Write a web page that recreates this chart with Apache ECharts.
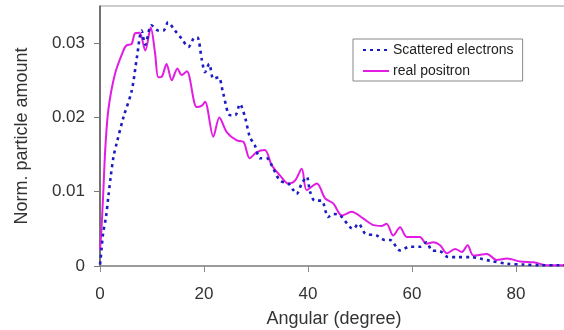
<!DOCTYPE html>
<html>
<head>
<meta charset="utf-8">
<script src="https://cdn.jsdelivr.net/npm/echarts@6/dist/echarts.min.js"></script>
<style>
  html, body { margin: 0; padding: 0; background: #fff; }
  #chart { width: 564px; height: 330px; }
</style>
</head>
<body>
<div id="chart"></div>
<script>
var electronAngle = [0, 0.1, 0.3, 0.6, 1.15, 1.6, 2.05, 2.6, 3.2, 4.5, 6.1, 7.1, 8.0, 8.7, 9.9, 11.2, 12.2, 13.1, 14.4, 15.7, 17.0, 18.0, 18.7, 19.6, 20.2, 21.0, 21.8, 22.8, 23.7, 25.0, 26.0, 26.9, 27.9, 28.8, 29.8, 30.8, 32.1, 33.0, 34.6, 36.2, 37.2, 37.8, 38.8, 39.75, 40.4, 41.3, 42.6, 43.9, 44.9, 46.2, 48.7, 49.7, 51.0, 53.2, 54.8, 55.8, 57.7, 59.6, 61.5, 62.8, 63.8, 65.4, 67.0, 68.6, 71.2, 73.1, 75.0, 78.3, 81.4, 84.6, 88, 90];
var electronValue = [0.0002, 0.0008, 0.0023, 0.0044, 0.0066, 0.0093, 0.012, 0.0147, 0.0165, 0.020, 0.0236, 0.0281, 0.0317, 0.0298, 0.0324, 0.0317, 0.0317, 0.0328, 0.0317, 0.0306, 0.0295, 0.0306, 0.0308, 0.0277, 0.0261, 0.0272, 0.0252, 0.0254, 0.0232, 0.0203, 0.0203, 0.0218, 0.0200, 0.0174, 0.0162, 0.0145, 0.0145, 0.0136, 0.0115, 0.0111, 0.0102, 0.0097, 0.0111, 0.0120, 0.0100, 0.0088, 0.0088, 0.0066, 0.0070, 0.0068, 0.0050, 0.0057, 0.0044, 0.0041, 0.0035, 0.0035, 0.0021, 0.0026, 0.0026, 0.0032, 0.0021, 0.0020, 0.0012, 0.0012, 0.0012, 0.0010, 0.0007, 0.0003, 0.0002, 0.0001, 0.0001, 0.0001];

var positronAngle = [0, 0.3, 0.65, 1.0, 1.6, 2.9, 4.5, 5.1, 6.1, 6.7, 7.6, 8.7, 9.75, 10.6, 11.2, 11.9, 12.8, 13.8, 14.9, 15.7, 16.7, 18.6, 19.6, 20.2, 21.8, 22.95, 24.4, 26.3, 27.6, 28.8, 30.1, 31.7, 33.0, 34.6, 36.2, 37.5, 38.8, 39.75, 41.7, 43.3, 44.9, 46.5, 48.4, 50.6, 52.6, 54.2, 55.1, 56.4, 57.7, 59.0, 61.5, 62.8, 64.1, 65.4, 66.7, 68.3, 69.6, 70.7, 71.8, 74.4, 76.3, 78.3, 80.8, 83.4, 86.0, 88.5, 90];
var positronValue = [0.0021, 0.0052, 0.0102, 0.0156, 0.0210, 0.0259, 0.0290, 0.0297, 0.0299, 0.0313, 0.0314, 0.0290, 0.0321, 0.0286, 0.0254, 0.0255, 0.0272, 0.0250, 0.0266, 0.0257, 0.0262, 0.0214, 0.0216, 0.0221, 0.0174, 0.0200, 0.0180, 0.0169, 0.0167, 0.0145, 0.0153, 0.0156, 0.0136, 0.0122, 0.0111, 0.0115, 0.0131, 0.0102, 0.0111, 0.0091, 0.0084, 0.0068, 0.0073, 0.0064, 0.0055, 0.0054, 0.0057, 0.0041, 0.0052, 0.0039, 0.0039, 0.0030, 0.0032, 0.0028, 0.0017, 0.0023, 0.0019, 0.0028, 0.0014, 0.0016, 0.0008, 0.0010, 0.0006, 0.0005, 0.0001, 0.0001, 0.0001];

var xTicks = [0, 20, 40, 60, 80];
var yTicks = [0, 0.01, 0.02, 0.03];

function zip(a, b) {
  return a.map(function (v, i) { return [v, b[i]]; });
}

var font = "'Liberation Sans', Arial, sans-serif";
var chart = echarts.init(document.getElementById("chart"));
chart.setOption({
  animation: false,
  grid: {
    left: 100,
    top: 6,
    width: 468,
    height: 260,
    outerBoundsMode: "none",
    show: true,
    borderColor: "#9a9a9a",
    borderWidth: 1
  },
  legend: {
    orient: "vertical",
    left: 353,
    top: 39,
    padding: [4, 9, 3, 9],
    itemWidth: 26,
    itemHeight: 14,
    itemGap: 7,
    borderColor: "#888",
    borderWidth: 1,
    backgroundColor: "#fff",
    itemStyle: { opacity: 0 },
    textStyle: { fontFamily: font, fontSize: 14, color: "#222", padding: [0, 0, 0, -1] },
    data: ["Scattered electrons", "real positron"]
  },
  xAxis: {
    type: "value",
    min: 0,
    max: 90,
    name: "Angular (degree)",
    nameLocation: "middle",
    nameGap: 44,
    nameTextStyle: { fontFamily: font, fontSize: 18, color: "#333" },
    axisLine: { lineStyle: { color: "#8a8a8a", width: 1.5 } },
    axisTick: { length: 6, customValues: xTicks, lineStyle: { color: "#8a8a8a" } },
    axisLabel: { customValues: xTicks, fontFamily: font, fontSize: 17, color: "#333", margin: 20 },
    splitLine: { show: false }
  },
  yAxis: {
    type: "value",
    min: 0,
    max: 0.035,
    name: "Norm. particle amount",
    nameLocation: "middle",
    nameGap: 69,
    nameTextStyle: { fontFamily: font, fontSize: 18, color: "#333" },
    axisLine: { show: true, lineStyle: { color: "#555", width: 1.5 } },
    axisTick: { show: true, length: 6, customValues: yTicks, lineStyle: { color: "#777" } },
    axisLabel: { customValues: yTicks, fontFamily: font, fontSize: 17, color: "#333", margin: 15 },
    splitLine: { show: false }
  },
  series: [
    {
      name: "Scattered electrons",
      type: "line",
      data: zip(electronAngle, electronValue),
      symbol: "none",
      smooth: 0.3,
      z: 3,
      itemStyle: { color: "#1c1cc4" },
      lineStyle: { color: "#1c1cc4", width: 2.6, type: [3, 4] }
    },
    {
      name: "real positron",
      type: "line",
      data: zip(positronAngle, positronValue),
      symbol: "none",
      smooth: 0.3,
      z: 2,
      itemStyle: { color: "#e21ce2" },
      lineStyle: { color: "#e21ce2", width: 2 }
    }
  ]
});
</script>
</body>
</html>
